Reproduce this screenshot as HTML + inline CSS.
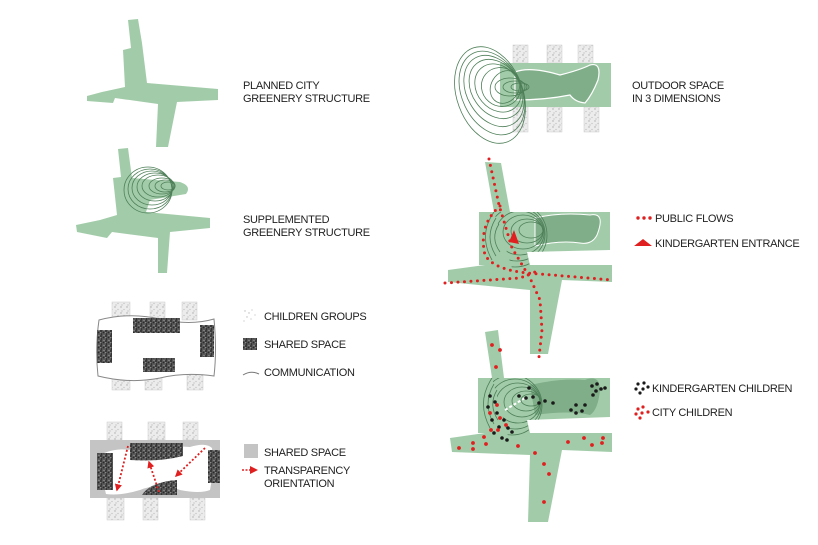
<!DOCTYPE html>
<html><head><meta charset="utf-8"><style>
html,body{margin:0;padding:0;background:#fff;}
svg{display:block;}
text{font-family:"Liberation Sans",Arial,sans-serif;font-size:11px;fill:#222;letter-spacing:-0.3px;}
</style></head><body>
<svg width="818" height="545" viewBox="0 0 818 545" xmlns="http://www.w3.org/2000/svg">
<defs>
<pattern id="lt" width="6" height="6" patternUnits="userSpaceOnUse">
<rect width="6" height="6" fill="#ececec"/><circle cx="1" cy="1" r="0.7" fill="#aaa"/><circle cx="4" cy="3.5" r="0.6" fill="#bbb"/><circle cx="2" cy="5" r="0.5" fill="#999"/>
</pattern>
<pattern id="dk" width="5" height="5" patternUnits="userSpaceOnUse">
<rect width="5" height="5" fill="#5a5a5a"/><circle cx="1" cy="1" r="0.9" fill="#222"/><circle cx="3.5" cy="2.5" r="0.9" fill="#2a2a2a"/><circle cx="1.5" cy="4" r="0.8" fill="#222"/><circle cx="4" cy="0.5" r="0.5" fill="#bbb"/><circle cx="0.5" cy="2.8" r="0.4" fill="#ccc"/>
</pattern>
<marker id="ar" viewBox="0 0 10 10" refX="8" refY="5" markerWidth="4" markerHeight="4" orient="auto"><path d="M0,0L10,5L0,10z" fill="#e02020"/></marker>
<clipPath id="c1"><path d="M494,212 L610,212 L610,250 L527,252 L530,268 L512,268 Z"/></clipPath>
<clipPath id="c2"><path d="M492,378 L610,378 L610,417 L527,420 L530,436 L508,436 Z"/></clipPath>
</defs>

<path d="M128,20 L138,19 L142,43 L147,83 L218,89 L218,100 L177,102 L168,147 L156,147 L158,104 L115,98 L113,103 L87,101 L87,96 L102,92 L125,87 L123,50 L131,48 Z" fill="#a2cca9"/>
<text x="243" y="89">PLANNED CITY</text><text x="243" y="102">GREENERY STRUCTURE</text>

<path d="M118,149 L128,148 L132,178 L180,182 Q192,186 186,194 L150,200 L146,212 L210,218 L210,228 L170,232 L167,273 L158,273 L158,238 L112,232 L107,238 L77,232 L76,225 L100,220 L117,215 L113,178 L121,177 Z" fill="#a2cca9"/>
<g fill="none" stroke="#4e7f58" stroke-width="0.8">
<ellipse cx="148" cy="190" rx="24" ry="23"/><ellipse cx="150" cy="189" rx="22" ry="20"/><ellipse cx="152" cy="188" rx="20" ry="17"/><ellipse cx="155" cy="187" rx="18" ry="14"/><ellipse cx="158" cy="186" rx="16" ry="11"/><ellipse cx="162" cy="186" rx="13" ry="8"/><ellipse cx="165" cy="186" rx="10" ry="6"/><ellipse cx="168" cy="186" rx="7" ry="4"/>
</g>
<text x="243" y="223">SUPPLEMENTED</text><text x="243" y="236">GREENERY STRUCTURE</text>

<g stroke="#ccc" stroke-width="0.5">
<rect x="112" y="302" width="18" height="18" fill="url(#lt)"/><rect x="150" y="302" width="15" height="18" fill="url(#lt)"/><rect x="182" y="302" width="15" height="18" fill="url(#lt)"/>
<rect x="112" y="372" width="18" height="18" fill="url(#lt)"/><rect x="145" y="372" width="17" height="18" fill="url(#lt)"/><rect x="187" y="372" width="16" height="18" fill="url(#lt)"/>
</g>
<path d="M99,320 Q130,312 160,319 Q190,326 214,319 Q217,350 214,376 Q185,372 160,378 Q130,384 98,376 Q95,348 99,320 Z" fill="#fff" stroke="#888" stroke-width="1"/>
<rect x="133" y="318" width="47" height="15" fill="url(#dk)"/>
<rect x="97" y="330" width="15" height="33" fill="url(#dk)"/>
<rect x="200" y="325" width="14" height="32" fill="url(#dk)"/>
<rect x="143" y="358" width="32" height="14" fill="url(#dk)"/>

<g stroke="#ccc" stroke-width="0.5">
<rect x="107" y="422" width="15" height="18" fill="url(#lt)"/><rect x="148" y="422" width="17" height="18" fill="url(#lt)"/><rect x="183" y="422" width="15" height="18" fill="url(#lt)"/>
<rect x="107" y="498" width="17" height="22" fill="url(#lt)"/><rect x="143" y="498" width="15" height="22" fill="url(#lt)"/><rect x="190" y="498" width="15" height="22" fill="url(#lt)"/>
</g>
<rect x="90" y="440" width="130" height="58" fill="#c4c4c4"/>
<path d="M104,453 Q118,448 128,450 Q150,444 190,447 Q206,442 212,448 Q214,470 210,490 Q200,494 180,490 Q160,482 140,490 Q120,496 106,494 Q100,472 104,453 Z" fill="#fff"/>
<path d="M130,443 L183,443 L183,456 Q160,462 130,460 Z" fill="url(#dk)"/>
<rect x="97" y="453" width="16" height="37" fill="url(#dk)"/>
<rect x="208" y="450" width="12" height="33" fill="url(#dk)"/>
<path d="M142,495 Q150,482 177,480 L177,495 Z" fill="url(#dk)"/>
<g fill="none" stroke="#e02020" stroke-width="1.8" stroke-dasharray="2 2" marker-end="url(#ar)">
<path d="M128,446 L117,490"/><path d="M159,492 L149,462"/><path d="M205,448 L176,476"/>
</g>

<g fill="#bbb"><circle cx="245" cy="311" r="0.7"/><circle cx="249" cy="313" r="0.7"/><circle cx="252" cy="310" r="0.6"/><circle cx="247" cy="317" r="0.7"/><circle cx="251" cy="319" r="0.6"/><circle cx="255" cy="315" r="0.6"/><circle cx="244" cy="321" r="0.6"/></g>
<text x="264" y="320">CHILDREN GROUPS</text>
<rect x="243" y="338" width="14" height="12" fill="url(#dk)"/>
<text x="264" y="348">SHARED SPACE</text>
<path d="M243,375 Q251,370 259,374" fill="none" stroke="#777" stroke-width="1"/>
<text x="264" y="376">COMMUNICATION</text>
<rect x="244" y="444" width="14" height="14" fill="#c4c4c4"/>
<text x="264" y="456">SHARED SPACE</text>
<path d="M242,470 L250,470" stroke="#e02020" stroke-width="1.5" stroke-dasharray="2 1.5"/><path d="M250,466 L258,470 L250,474 Z" fill="#e02020"/>
<text x="264" y="474">TRANSPARENCY</text><text x="264" y="487">ORIENTATION</text>

<g stroke="#ccc" stroke-width="0.5">
<rect x="513" y="45" width="15" height="18" fill="url(#lt)"/><rect x="547" y="45" width="15" height="18" fill="url(#lt)"/><rect x="578" y="45" width="15" height="18" fill="url(#lt)"/>
<rect x="513" y="107" width="15" height="25" fill="url(#lt)"/><rect x="547" y="107" width="15" height="25" fill="url(#lt)"/><rect x="584" y="107" width="15" height="25" fill="url(#lt)"/>
</g>
<rect x="500" y="63" width="111" height="44" fill="#a2cca9"/>
<path d="M515,72 Q530,66 560,75 Q580,70 590,65 Q602,62 598,80 Q592,95 585,103 Q575,102 570,95 Q545,100 515,100 Z" fill="#7fae88" stroke="#fff" stroke-width="1.2"/>
<g fill="none" stroke="#4e7f58" stroke-width="0.8">
<ellipse cx="490" cy="95" rx="33" ry="50" transform="rotate(-20 490 95)"/><ellipse cx="492" cy="93" rx="30" ry="44" transform="rotate(-25 492 93)"/><ellipse cx="494" cy="91" rx="27" ry="38" transform="rotate(-30 494 91)"/><ellipse cx="496" cy="89" rx="24" ry="32" transform="rotate(-35 496 89)"/><ellipse cx="498" cy="88" rx="21" ry="26" transform="rotate(-40 498 88)"/><ellipse cx="501" cy="87" rx="19" ry="20" transform="rotate(-50 501 87)"/><ellipse cx="505" cy="87" rx="17" ry="14" transform="rotate(-60 505 87)"/><ellipse cx="510" cy="87" rx="15" ry="9"/><ellipse cx="515" cy="87" rx="12" ry="6"/><ellipse cx="520" cy="87" rx="9" ry="4"/>
</g>
<text x="632" y="89">OUTDOOR SPACE</text><text x="632" y="102">IN 3 DIMENSIONS</text>

<path d="M485,162 L501,163 L510,212 L610,212 L610,250 L527,252 L530,265 L612,265 L612,282 L562,280 L548,354 L530,354 L530,290 L448,282 L448,270 L485,265 L479,265 L479,212 L494,212 Z" fill="#a2cca9"/>
<path d="M535,218 Q560,212 590,215 Q606,212 597,235 Q592,245 580,243 Q560,240 535,246 Z" fill="#7fae88" stroke="#fff" stroke-width="1"/>
<g fill="none" stroke="#4e7f58" stroke-width="0.8" clip-path="url(#c1)">
<ellipse cx="515" cy="235" rx="32" ry="32"/><ellipse cx="517" cy="234" rx="28" ry="27"/><ellipse cx="520" cy="233" rx="24" ry="22"/><ellipse cx="523" cy="232" rx="20" ry="17"/><ellipse cx="527" cy="231" rx="16" ry="12"/><ellipse cx="531" cy="230" rx="12" ry="8"/>
</g>
<g fill="none" stroke="#4e7f58" stroke-width="0.8">
<path d="M494,212 Q478,235 492,260"/><path d="M496,218 Q484,237 496,256"/><path d="M499,224 Q490,238 500,252"/>
</g>
<path d="M514,230 L519,244 L509,242 Z" fill="#e02020"/>
<g fill="none" stroke="#e02020" stroke-width="3" stroke-linecap="round" stroke-dasharray="0 6.5">
<path d="M489,159 L499,205 L512,248 L530,278 L540,300 L542,330 L539,357"/>
<path d="M500,206 Q478,225 485,255 Q495,272 540,274 L612,280"/>
<path d="M445,283 L520,278 L540,270"/>
</g>
<g fill="#e02020"><circle cx="638" cy="218" r="1.7"/><circle cx="644" cy="218" r="1.7"/><circle cx="650" cy="218" r="1.7"/><path d="M634,246 L643,239 L652,246 Z"/></g>
<text x="655" y="222">PUBLIC FLOWS</text><text x="655" y="247">KINDERGARTEN ENTRANCE</text>

<path d="M485,332 L498,330 L504,378 L610,378 L610,417 L527,420 L530,433 L612,433 L612,452 L562,450 L548,522 L528,522 L530,455 L452,452 L450,438 L485,433 L478,433 L478,378 L492,378 Z" fill="#a2cca9"/>
<path d="M530,385 Q560,378 585,380 Q600,374 600,390 Q598,410 590,415 Q570,410 535,415 Z" fill="#7fae88"/>
<g fill="none" stroke="#4e7f58" stroke-width="0.8" clip-path="url(#c2)">
<ellipse cx="512" cy="405" rx="30" ry="30"/><ellipse cx="515" cy="404" rx="26" ry="25"/><ellipse cx="518" cy="403" rx="22" ry="20"/><ellipse cx="522" cy="402" rx="18" ry="15"/><ellipse cx="526" cy="401" rx="14" ry="10"/><ellipse cx="531" cy="400" rx="10" ry="6"/>
</g>
<g fill="none" stroke="#4e7f58" stroke-width="0.8">
<path d="M492,378 Q476,402 490,428"/><path d="M494,384 Q482,404 494,424"/><path d="M497,390 Q488,405 498,420"/>
</g>
<path d="M505,410 L525,398" stroke="#fff" stroke-width="2" stroke-dasharray="3 2"/>
<g fill="#1a1a1a">
<circle cx="529" cy="388" r="1.8"/><circle cx="519" cy="396" r="1.8"/><circle cx="526" cy="398" r="1.8"/><circle cx="533" cy="397" r="1.8"/><circle cx="539" cy="403" r="1.8"/><circle cx="545" cy="401" r="1.8"/><circle cx="553" cy="403" r="1.8"/><circle cx="490" cy="396" r="1.8"/><circle cx="495" cy="402" r="1.8"/><circle cx="488" cy="407" r="1.8"/><circle cx="497" cy="413" r="1.8"/><circle cx="504" cy="420" r="1.8"/><circle cx="492" cy="420" r="1.8"/><circle cx="499" cy="427" r="1.8"/><circle cx="508" cy="428" r="1.8"/><circle cx="494" cy="433" r="1.8"/><circle cx="502" cy="438" r="1.8"/><circle cx="512" cy="432" r="1.8"/><circle cx="507" cy="440" r="1.8"/><circle cx="592" cy="386" r="1.8"/><circle cx="597" cy="384" r="1.8"/><circle cx="596" cy="391" r="1.8"/><circle cx="601" cy="389" r="1.8"/><circle cx="605" cy="388" r="1.8"/><circle cx="593" cy="395" r="1.8"/><circle cx="576" cy="405" r="1.8"/><circle cx="571" cy="410" r="1.8"/><circle cx="576" cy="413" r="1.8"/><circle cx="582" cy="411" r="1.8"/><circle cx="585" cy="405" r="1.8"/>
</g>
<g fill="#e02020">
<circle cx="492" cy="345" r="1.9"/><circle cx="500" cy="350" r="1.9"/><circle cx="496" cy="367" r="1.9"/><circle cx="497" cy="405" r="1.9"/><circle cx="490" cy="413" r="1.9"/><circle cx="500" cy="418" r="1.9"/><circle cx="491" cy="430" r="1.9"/><circle cx="498" cy="430" r="1.9"/><circle cx="506" cy="425" r="1.9"/><circle cx="484" cy="437" r="1.9"/><circle cx="473" cy="443" r="1.9"/><circle cx="459" cy="448" r="1.9"/><circle cx="473" cy="449" r="1.9"/><circle cx="486" cy="444" r="1.9"/><circle cx="518" cy="446" r="1.9"/><circle cx="535" cy="453" r="1.9"/><circle cx="544" cy="464" r="1.9"/><circle cx="549" cy="474" r="1.9"/><circle cx="544" cy="502" r="1.9"/><circle cx="568" cy="442" r="1.9"/><circle cx="584" cy="438" r="1.9"/><circle cx="592" cy="445" r="1.9"/><circle cx="602" cy="443" r="1.9"/><circle cx="603" cy="438" r="1.9"/>
</g>
<g fill="#1a1a1a"><circle cx="638" cy="384" r="1.6"/><circle cx="644" cy="383" r="1.6"/><circle cx="636" cy="389" r="1.6"/><circle cx="643" cy="389" r="1.6"/><circle cx="648" cy="387" r="1.6"/><circle cx="640" cy="393" r="1.6"/></g>
<g fill="#e02020"><circle cx="638" cy="409" r="1.6"/><circle cx="643" cy="407" r="1.6"/><circle cx="636" cy="414" r="1.6"/><circle cx="642" cy="413" r="1.6"/><circle cx="648" cy="412" r="1.6"/><circle cx="640" cy="418" r="1.6"/></g>
<text x="652" y="392">KINDERGARTEN CHILDREN</text><text x="652" y="416">CITY CHILDREN</text>
</svg>
</body></html>
